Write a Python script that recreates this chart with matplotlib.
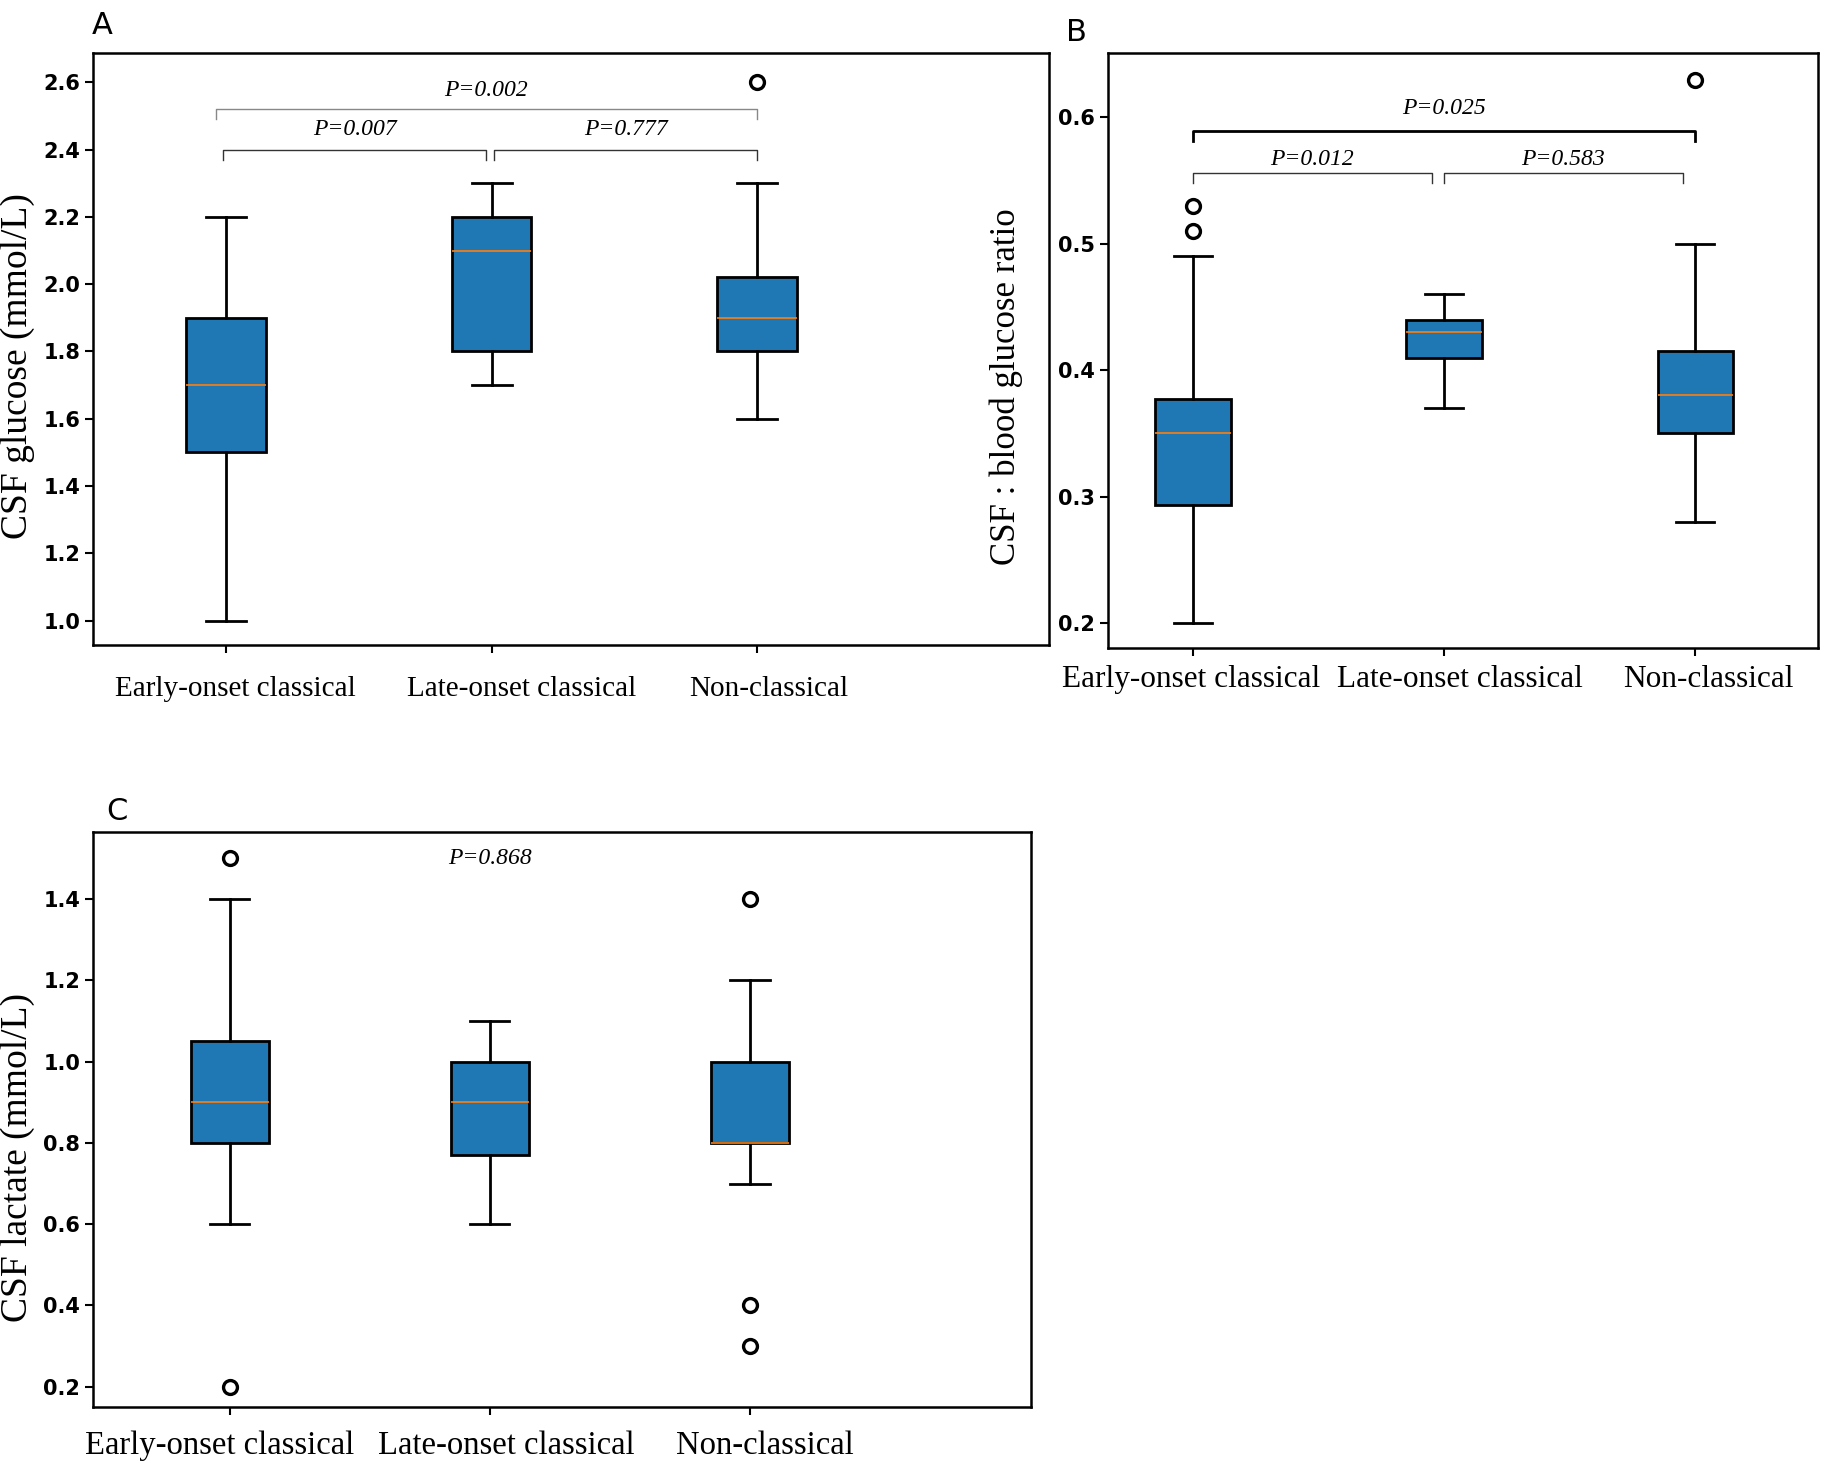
import numpy as np
import matplotlib
matplotlib.use("Agg")
import matplotlib.pyplot as plt
from matplotlib.transforms import ScaledTranslation

# groups
groups = ["Early-onset classical", "Late-onset classical", "Non-classical"]

# A: CSF glucose (whislo, q1, med, q3, whishi)
glu_stats = [[1.0, 1.5, 1.7, 1.9, 2.2],
             [1.7, 1.8, 2.1, 2.2, 2.3],
             [1.6, 1.8, 1.9, 2.02, 2.3]]
glu_fliers = [[], [], [2.6]]

# B: CSF : blood glucose ratio
ratio_stats = [[0.2, 0.293, 0.35, 0.377, 0.49],
               [0.37, 0.41, 0.43, 0.44, 0.46],
               [0.28, 0.35, 0.38, 0.415, 0.5]]
ratio_fliers = [[0.51, 0.53], [], [0.63]]

# C: CSF lactate
lac_stats = [[0.6, 0.8, 0.9, 1.05, 1.4],
             [0.6, 0.77, 0.9, 1.0, 1.1],
             [0.7, 0.8, 0.8, 1.0, 1.2]]
lac_fliers = [[1.5, 0.2], [], [1.4, 0.4, 0.3]]

# brackets: (x1, x2, y, label, text y, color, lw)
glu_brackets = [(0.96, 3.0, 2.52, "P=0.002", 2.575, "#888888", 1.0),
                (0.99, 1.98, 2.40, "P=0.007", 2.46, "#333333", 1.0),
                (2.01, 3.0, 2.40, "P=0.777", 2.46, "#333333", 1.0)]
ratio_brackets = [(1.0, 3.0, 0.589, "P=0.025", 0.607, "black", 2.0),
                  (1.0, 1.95, 0.556, "P=0.012", 0.567, "#333333", 1.0),
                  (2.0, 2.95, 0.556, "P=0.583", 0.567, "#333333", 1.0)]

tick_font = ["DejaVu Sans"]
serif = ["Liberation Serif", "DejaVu Serif"]


def make_stats(rows, fl):
    out = []
    for r, f in zip(rows, fl):
        out.append(dict(whislo=r[0], q1=r[1], med=r[2], q3=r[3], whishi=r[4], fliers=f))
    return out


def draw_panel(ax, rows, fl, ylabel, ylim, xlim, yticks, xfs, yfs, xpad, lab_shift,
               lx, ly):
    ax.bxp(make_stats(rows, fl), positions=[1, 2, 3], widths=0.3, patch_artist=True,
           boxprops=dict(facecolor="#1f77b4", edgecolor="black", linewidth=2),
           whiskerprops=dict(color="black", linewidth=2),
           capprops=dict(color="black", linewidth=2),
           medianprops=dict(color="#ff7f0e", linewidth=1.2),
           flierprops=dict(marker="o", markerfacecolor="white", markeredgecolor="black",
                           markersize=10, markeredgewidth=2.4))
    ax.set_xlim(xlim)
    ax.set_ylim(ylim)
    ax.set_yticks(yticks)
    ax.set_yticklabels(["%.1f" % v for v in yticks], fontfamily=tick_font,
                       fontweight="bold", fontsize=15)
    ax.set_xticks([1, 2, 3])
    ax.set_xticklabels(groups, fontfamily=serif, fontsize=xfs)
    ax.set_ylabel(ylabel, fontfamily=serif, fontsize=yfs)
    ax.yaxis.set_label_coords(lx, ly)
    ax.tick_params(axis="both", length=6, width=1.5)
    ax.tick_params(axis="x", pad=xpad)
    # labels sit a little off their ticks in the original
    for lab, dx in zip(ax.get_xticklabels(), lab_shift):
        lab.set_transform(lab.get_transform() +
                          ScaledTranslation(dx / 100.0, 0, ax.figure.dpi_scale_trans))
    for s in ax.spines.values():
        s.set_linewidth(1.8)


def draw_brackets(ax, brackets, drop):
    for x1, x2, y, lab, ty, c, lw in brackets:
        ax.plot([x1, x1, x2, x2], [y - drop, y, y, y - drop], color=c, lw=lw)
        ax.text((x1 + x2) / 2, ty, lab, ha="center", va="center", fontfamily=serif,
                style="italic", fontsize=17)


fig = plt.figure(figsize=(18.31, 14.73), dpi=100)

axA = fig.add_axes([0.051, 0.562, 0.522, 0.402])
draw_panel(axA, glu_stats, glu_fliers, "CSF glucose (mmol/L)", (0.927, 2.687),
           (0.5, 4.1), np.arange(1.0, 2.61, 0.2), 21, 27, 16, [9, 30, 12], -0.061, 0.472)
draw_brackets(axA, glu_brackets, 0.03)
fig.text(0.056, 0.983, "A", fontsize=22, ha="center", va="center")

axB = fig.add_axes([0.605, 0.560, 0.388, 0.404])
draw_panel(axB, ratio_stats, ratio_fliers, "CSF : blood glucose ratio", (0.18, 0.651),
           (0.66, 3.49), np.arange(0.2, 0.61, 0.1), 22.5, 25, 6, [-2, 16, 13], -0.119, 0.44)
draw_brackets(axB, ratio_brackets, 0.008)
fig.text(0.588, 0.978, "B", fontsize=22, ha="center", va="center")

axC = fig.add_axes([0.051, 0.045, 0.512, 0.39])
draw_panel(axC, lac_stats, lac_fliers, "CSF lactate (mmol/L)", (0.151, 1.564),
           (0.475, 4.08), np.arange(0.2, 1.41, 0.2), 23.5, 27, 11, [-10, 16, 15], -0.062, 0.433)
axC.text(2.0, 1.5, "P=0.868", ha="center", va="center", fontfamily=serif,
         style="italic", fontsize=17)
fig.text(0.064, 0.449, "C", fontsize=22, ha="center", va="center")

fig.savefig("out.png", dpi=100, facecolor="white")
